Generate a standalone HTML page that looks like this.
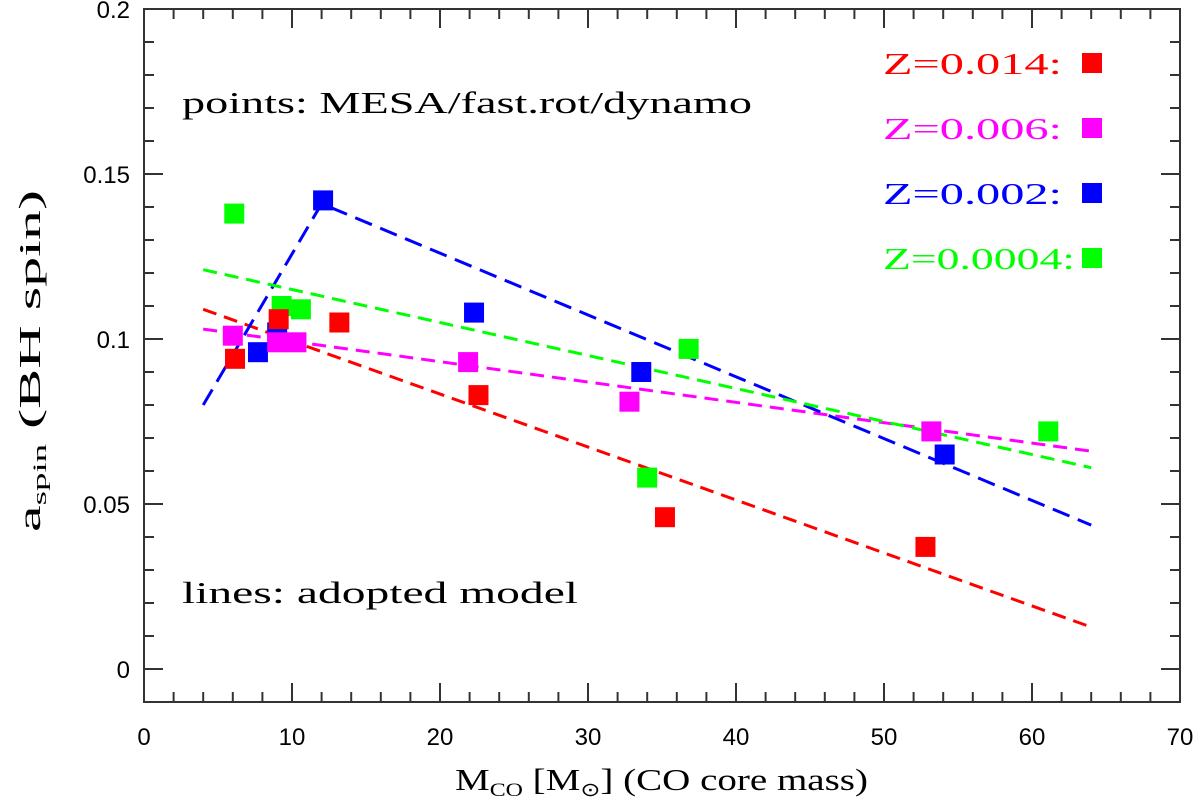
<!DOCTYPE html>
<html><head><meta charset="utf-8"><style>body{margin:0;background:#fff}svg{display:block}</style></head>
<body>
<svg id="chart" width="1200" height="805" xmlns="http://www.w3.org/2000/svg">
<g id="axes"></g>
<g id="lines"></g>
<g id="pts"></g>
<g id="legend"></g>
<text x="182" y="113" font-family="Liberation Serif, serif" font-size="31" textLength="570" lengthAdjust="spacingAndGlyphs">points: MESA/fast.rot/dynamo</text>
<text x="182" y="603" font-family="Liberation Serif, serif" font-size="31" textLength="396" lengthAdjust="spacingAndGlyphs">lines: adopted model</text>
<text x="455" y="790" font-family="Liberation Serif, serif" font-size="31" textLength="413" lengthAdjust="spacingAndGlyphs">M<tspan font-size="19" dy="6">CO</tspan><tspan dy="-6"> [M</tspan><tspan font-size="19" dy="6">⊙</tspan><tspan dy="-6">] (CO core mass)</tspan></text>
<text transform="translate(40,532) rotate(-90)" font-family="Liberation Serif, serif" font-size="31" textLength="342" lengthAdjust="spacingAndGlyphs">a<tspan font-size="19" dy="6">spin</tspan><tspan dy="-6"> (BH spin)</tspan></text>
</svg>
<script>
const NS="http://www.w3.org/2000/svg";
const xTicks=[0,10,20,30,40,50,60,70];
const yTicks=[0,0.05,0.1,0.15,0.2];
const yTickLabels=["0","0.05","0.1","0.15","0.2"];
const seriesNames=["Z=0.014:","Z=0.006:","Z=0.002:","Z=0.0004:"];
const seriesColors=["#ff0000","#ff00ff","#0000ff","#00ff00"];
const legendWidths=[179,179,179,192];
const redX=[6.15,9.1,13.2,22.6,35.2,52.8];
const redY=[0.094,0.106,0.105,0.083,0.046,0.037];
const magX=[6.0,9.0,10.3,21.9,32.8,53.2];
const magY=[0.101,0.099,0.099,0.093,0.081,0.072];
const blueX=[7.7,9.0,12.1,22.3,33.6,54.1];
const blueY=[0.096,0.102,0.142,0.108,0.090,0.065];
const greenX=[6.1,9.3,10.6,36.8,34.0,61.1];
const greenY=[0.138,0.110,0.109,0.097,0.058,0.072];
const redLineX=[4,64],redLineY=[0.109,0.0127];
const magLineX=[4,64],magLineY=[0.103,0.066];
const greenLineX=[4,64],greenLineY=[0.121,0.061];
const blueLineX=[4,12,64],blueLineY=[0.080,0.141,0.0436];

const L=144,R=1180,T=9,B=702;
const X=v=>L+v*(R-L)/70;
const Y=v=>669-v*3300;
function mk(t,a,p){const e=document.createElementNS(NS,t);for(const k in a)e.setAttribute(k,a[k]);p.appendChild(e);return e;}
const ax=document.getElementById('axes');
const fr=mk('rect',{x:L,y:T,width:R-L,height:B-T,fill:'none',stroke:'#333','stroke-width':2},ax);


for(let v=0;v<=70;v+=2){const big=v%10===0;const len=big?19:10;
 mk('line',{x1:X(v),x2:X(v),y1:B,y2:B-len,stroke:'#333','stroke-width':2},ax);
 mk('line',{x1:X(v),x2:X(v),y1:T,y2:T+len,stroke:'#333','stroke-width':2},ax);}
for(let i=0;i<=20;i++){const v=i/100;const big=i%5===0;const len=big?19:10;
 mk('line',{x1:L,x2:L+len,y1:Y(v),y2:Y(v),stroke:'#333','stroke-width':2},ax);
 mk('line',{x1:R,x2:R-len,y1:Y(v),y2:Y(v),stroke:'#333','stroke-width':2},ax);}
xTicks.forEach(v=>{const t=mk('text',{x:X(v),y:745,'text-anchor':'middle','font-family':'Liberation Sans, sans-serif','font-size':24},ax);t.textContent=v;
 
 });
yTicks.forEach((v,i)=>{const t=mk('text',{x:130,y:Y(v)+9,'text-anchor':'end','font-family':'Liberation Sans, sans-serif','font-size':24},ax);t.textContent=yTickLabels[i];
 
 });
const lg=document.getElementById('lines');
[[redLineX,redLineY],[magLineX,magLineY],[blueLineX,blueLineY],[greenLineX,greenLineY]].forEach((s,i)=>{
 const d=s[0].map((x,j)=>(j?'L':'M')+X(x)+' '+Y(s[1][j])).join(' ');
 const p=mk('path',{d:d,fill:'none',stroke:seriesColors[i],'stroke-width':3,'stroke-dasharray':i===2?'18 9':'14 8'},lg);
 
 });
const pg=document.getElementById('pts');
const order=[3,2,1,0];
const sets=[[redX,redY],[magX,magY],[blueX,blueY],[greenX,greenY]];
order.forEach(i=>{const s=sets[i];
 s[0].forEach((x,j)=>{const r=mk('rect',{x:X(x)-10,y:Y(s[1][j])-10,width:20,height:20,fill:seriesColors[i]},pg);
 
 });});
const leg=document.getElementById('legend');
seriesNames.forEach((n,i)=>{const y=63+i*65;
 const t=mk('text',{x:883,y:y+11,fill:seriesColors[i],'font-family':'Liberation Serif, serif','font-size':31,textLength:legendWidths[i],lengthAdjust:'spacingAndGlyphs'},leg);t.textContent=n;
 
 
 const r=mk('rect',{x:1082,y:y-10,width:20,height:20,fill:seriesColors[i]},leg);
 
 });
</script>
</body></html>
